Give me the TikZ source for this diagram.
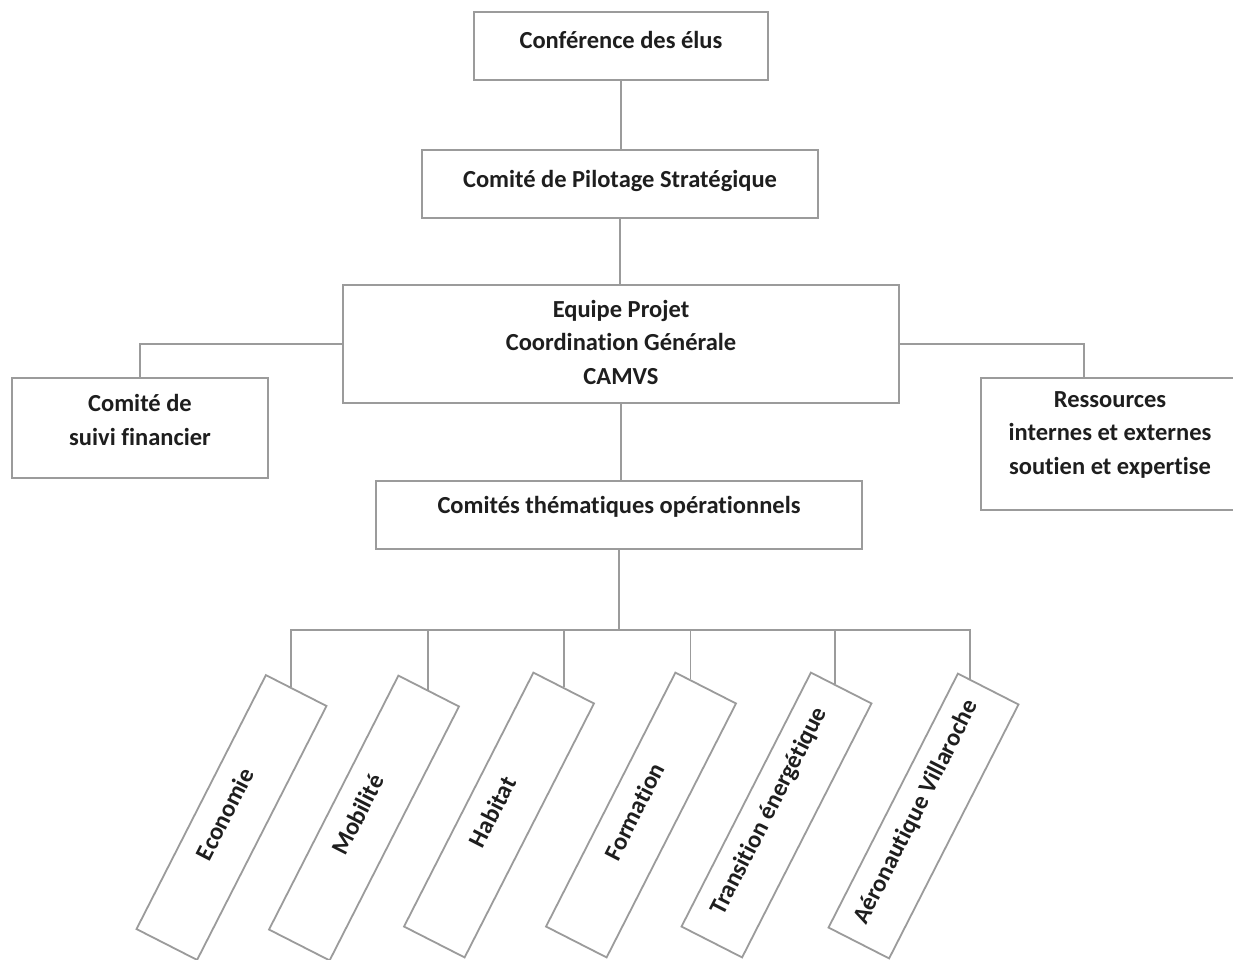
\documentclass[tikz,border=0pt]{standalone}
\usepackage{fontspec}
\setmainfont{Carlito}[RawFeature={-liga}]
\usetikzlibrary{calc}
\definecolor{linegray}{RGB}{155,155,155}
\definecolor{textdark}{RGB}{30,30,30}
\begin{document}
\begin{tikzpicture}[x=1pt,y=-1pt,
  box/.style={draw=linegray, line width=1.8pt, inner sep=0pt,
    font=\bfseries\fontsize{24.5}{33.5}\selectfont, text=textdark, align=center},
  theme/.style={box, rotate=63, minimum width=285pt, minimum height=68pt},
  liftby/.style={text depth=#1},
  conn/.style={draw=linegray, line width=1.8pt}]
\useasboundingbox (0,0) rectangle (1233,959);
\clip (0,0) rectangle (1233,959);
\fill[white] (0,0) rectangle (1233,959);

% main boxes
\node[box, minimum width=294pt, minimum height=68pt, liftby=12pt] (conf) at (621,46) {Conférence des élus};
\node[box, minimum width=396pt, minimum height=68pt, liftby=10pt] (pil) at (620,184) {Comité de Pilotage Stratégique};
\node[box, minimum width=556pt, minimum height=118pt, liftby=4pt] (eq) at (621,344) {Equipe Projet\\Coordination Générale\\CAMVS};
\node[box, minimum width=256pt, minimum height=100pt, liftby=16pt] (cs) at (140,428) {Comité de\\suivi financier};
\node[box, minimum width=258pt, minimum height=132pt, liftby=22pt] (res) at (1110,444) {Ressources\\internes et externes\\soutien et expertise};
\node[box, minimum width=486pt, minimum height=68pt, liftby=20pt] (ct) at (619,515) {Comités thématiques opérationnels};

% thematic boxes
\node[theme, liftby=15pt] (eco) at (231.5,817.5) {Economie};
\node[theme, liftby=15pt] (mob) at (364,818) {Mobilité};
\node[theme, liftby=15pt] (hab) at (499,815) {Habitat};
\node[theme, liftby=15pt] (for) at (641,815) {Formation};
\node[theme, liftby=20pt] (tra) at (776.5,815) {Transition énergétique};
\node[theme, liftby=20pt] (aer) at (923.5,816) {Aéronautique Villaroche};

% connectors
\draw[conn] (conf.south) -- (conf.south |- pil.north);
\draw[conn] (pil.south) -- (pil.south |- eq.north);
\draw[conn] (eq.south) -- (eq.south |- ct.north);
\draw[conn] (eq.west) -| (cs.north);
\coordinate (rescon) at ($(res.north west)+(104,0)$);
\draw[conn] (eq.east) -| (rescon);

\coordinate (bus) at (0,630);
\coordinate (d1) at ($(eco.north east)!0.41!(eco.south east)$);
\coordinate (d2) at ($(mob.north east)!0.48!(mob.south east)$);
\coordinate (d3) at ($(hab.north east)!0.50!(hab.south east)$);
\coordinate (d4) at ($(for.north east)!0.25!(for.south east)$);
\coordinate (d5) at ($(tra.north east)!0.40!(tra.south east)$);
\coordinate (d6) at ($(aer.north east)!0.20!(aer.south east)$);
\draw[conn] (ct.south) -- (ct.south |- bus);
\draw[conn] (d1) -- (d1 |- bus) -- (d6 |- bus) -- (d6);
\foreach \i in {2,3,4,5} \draw[conn] (d\i |- bus) -- (d\i);
\end{tikzpicture}
\end{document}
